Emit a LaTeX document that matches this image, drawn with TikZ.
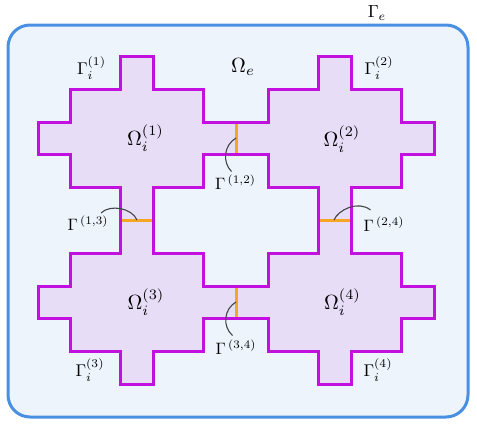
\documentclass[tikz,border=0pt]{standalone}
\usepackage{graphicx}
\definecolor{outerfill}{HTML}{EDF4FC}
\definecolor{outerline}{HTML}{4A90E2}
\definecolor{subfill}{HTML}{E7DDF7}
\definecolor{subline}{HTML}{C210DE}
\definecolor{ifaceline}{HTML}{F5A623}
\definecolor{arcline}{HTML}{454545}
\tikzset{
  domainbox/.style={draw=outerline, fill=outerfill, line width=3pt, rounded corners=22pt},
  subdomain/.style={draw=subline, fill=subfill, line width=3pt},
  iface/.style={draw=ifaceline, line width=3pt},
  pointer/.style={draw=arcline, line width=1.1pt},
  mathlabel/.style={inner sep=0pt},
}
\newcommand\bigsym[2]{\scalebox{#1}{$#2$}}
\newcommand\drawsubdomain[2]{%
  \begin{scope}[shift={(#1,#2)}]
    \path[subdomain] (-16.5,-82) -- (16.5,-82) -- (16.5,-49) -- (66.5,-49) -- (66.5,-16)
      -- (99,-16) -- (99,16) -- (66.5,16) -- (66.5,49) -- (16.5,49) -- (16.5,82)
      -- (-16.5,82) -- (-16.5,49) -- (-66.5,49) -- (-66.5,16) -- (-99,16) -- (-99,-16)
      -- (-66.5,-16) -- (-66.5,-49) -- (-16.5,-49) -- cycle;
  \end{scope}}
\begin{document}
\begin{tikzpicture}[x=1pt,y=-1pt]
  \useasboundingbox (0,0) rectangle (477,426);
  \path[domainbox] (8,25) rectangle (468,417);
  \drawsubdomain{137}{138}
  \drawsubdomain{335}{138}
  \drawsubdomain{137}{302}
  \drawsubdomain{335}{302}
  % interfaces
  \draw[iface] (236,123.5) -- (236,152.5);
  \draw[iface] (236,287.5) -- (236,316.5);
  \draw[iface] (122,220) -- (152,220);
  \draw[iface] (320,220) -- (350,220);
  \coordinate (i12) at (236,138);
  \coordinate (i34) at (236,302);
  \coordinate (i13) at (137,220);
  \coordinate (i24) at (334,220);
  \coordinate (e12) at (231.5,171.5);
  \coordinate (e34) at (232.5,335.5);
  \coordinate (e13) at (101,213);
  \coordinate (e24) at (370.5,210);
  \draw[pointer] (i12) .. controls (224,145) and (222,162) .. (e12);
  \draw[pointer] (i34) .. controls (224,309) and (222,326) .. (e34);
  \draw[pointer] (i13) .. controls (132,208) and (110,204) .. (e13);
  \draw[pointer] (i24) .. controls (338,210) and (358,200) .. (e24);
  % labels
  \node[mathlabel] (om1) at (145.5,138) {\bigsym{2.05}{\Omega_i^{(1)}}};
  \node[mathlabel] (om2) at (342,139) {\bigsym{2.05}{\Omega_i^{(2)}}};
  \node[mathlabel] (om3) at (146,302) {\bigsym{2.05}{\Omega_i^{(3)}}};
  \node[mathlabel] (om4) at (342.5,302) {\bigsym{2.05}{\Omega_i^{(4)}}};
  \node[mathlabel] (ome) at (243,67) {\bigsym{2.05}{\Omega_e}};
  \node[mathlabel] (gae) at (377,13) {\bigsym{1.75}{\Gamma_e}};
  \node[mathlabel] (ga1) at (91.5,68) {\bigsym{1.7}{\Gamma_i^{(1)}}};
  \node[mathlabel] (ga2) at (379,68) {\bigsym{1.7}{\Gamma_i^{(2)}}};
  \node[mathlabel] (ga3) at (90,370) {\bigsym{1.7}{\Gamma_i^{(3)}}};
  \node[mathlabel] (ga4) at (378,370) {\bigsym{1.7}{\Gamma_i^{(4)}}};
  \node[mathlabel] (g12) at (235.5,182) {\bigsym{1.65}{\Gamma^{\,(1,2)}}};
  \node[mathlabel] (g34) at (236,347) {\bigsym{1.65}{\Gamma^{\,(3,4)}}};
  \node[mathlabel] (g13) at (88,223) {\bigsym{1.65}{\Gamma^{\,(1,3)}}};
  \node[mathlabel] (g24) at (384,224) {\bigsym{1.65}{\Gamma^{\,(2,4)}}};
\end{tikzpicture}
\end{document}
